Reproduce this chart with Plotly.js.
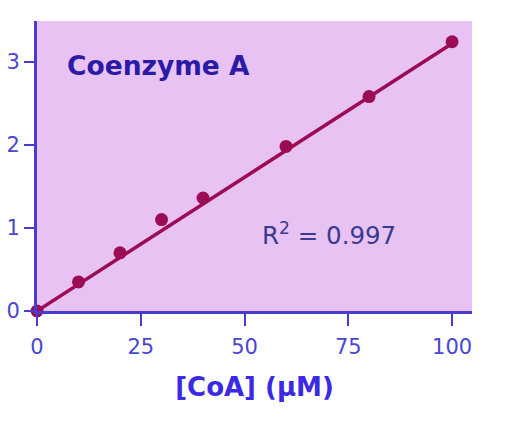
<!DOCTYPE html>
<html>
<head>
<meta charset="utf-8">
<script src="https://cdn.plot.ly/plotly-3.0.1.min.js"></script>
<style>html,body{margin:0;padding:0;background:#fff;}</style>
</head>
<body>
<div id="chart" style="width:521px;height:425px;"></div>
<script>
// Data
var coaConc = [0, 10, 20, 30, 40, 60, 80, 100];          // [CoA] (µM)
var signal  = [0, 0.35, 0.70, 1.10, 1.36, 1.98, 2.58, 3.24];
var fitX = [0, 100];
var fitY = [0.0, 3.22];
var xTicks = [0, 25, 50, 75, 100];
var yTicks = [0, 1, 2, 3];

var wine = '#9c0c55';
var axisBlue = '#4a3ad0';
var tickBlue = '#4a46d2';

var traces = [
  {x: fitX, y: fitY, mode: 'lines', line: {color: wine, width: 3.5}, hoverinfo: 'skip', cliponaxis: false},
  {x: coaConc, y: signal, mode: 'markers', marker: {color: wine, size: 13}, cliponaxis: false}
];

var layout = {
  width: 521, height: 425,
  margin: {l: 37, r: 49, t: 21, b: 114},
  paper_bgcolor: '#ffffff',
  plot_bgcolor: '#e8c2f2',
  showlegend: false,
  xaxis: {
    range: [0, 104.8], tickvals: xTicks, ticktext: xTicks.map(String),
    showgrid: false, zeroline: false, showline: true, linecolor: axisBlue, linewidth: 3,
    ticks: 'outside', ticklen: 12, tickwidth: 2, tickcolor: axisBlue,
    tickfont: {family: 'DejaVu Sans', size: 21, color: tickBlue},
    ticklabelstandoff: 3,
    title: {text: '<b>[CoA] (µM)</b>', font: {family: 'DejaVu Sans', size: 26, color: '#3a2ae6'}, standoff: 20},
    automargin: false
  },
  yaxis: {
    range: [0, 3.49], tickvals: yTicks, ticktext: yTicks.map(String),
    showgrid: false, zeroline: false, showline: true, linecolor: axisBlue, linewidth: 3,
    ticks: 'outside', ticklen: 10, tickwidth: 2, tickcolor: axisBlue,
    tickfont: {family: 'DejaVu Sans', size: 21, color: tickBlue},
    automargin: false
  },
  annotations: [
    {xref: 'paper', yref: 'paper', x: 0.064, y: 0.845, xanchor: 'left', yanchor: 'middle',
     text: '<b>Coenzyme A</b>', showarrow: false,
     font: {family: 'DejaVu Sans', size: 26.5, color: '#2a1aa6'}},
    {xref: 'paper', yref: 'paper', x: 0.513, y: 0.266, xanchor: 'left', yanchor: 'middle',
     text: 'R<sup>2</sup> = 0.997', showarrow: false,
     font: {family: 'DejaVu Sans', size: 24.5, color: '#3a3a8e'}}
  ]
};

Plotly.newPlot('chart', traces, layout, {displayModeBar: false, staticPlot: true});
</script>
</body>
</html>
